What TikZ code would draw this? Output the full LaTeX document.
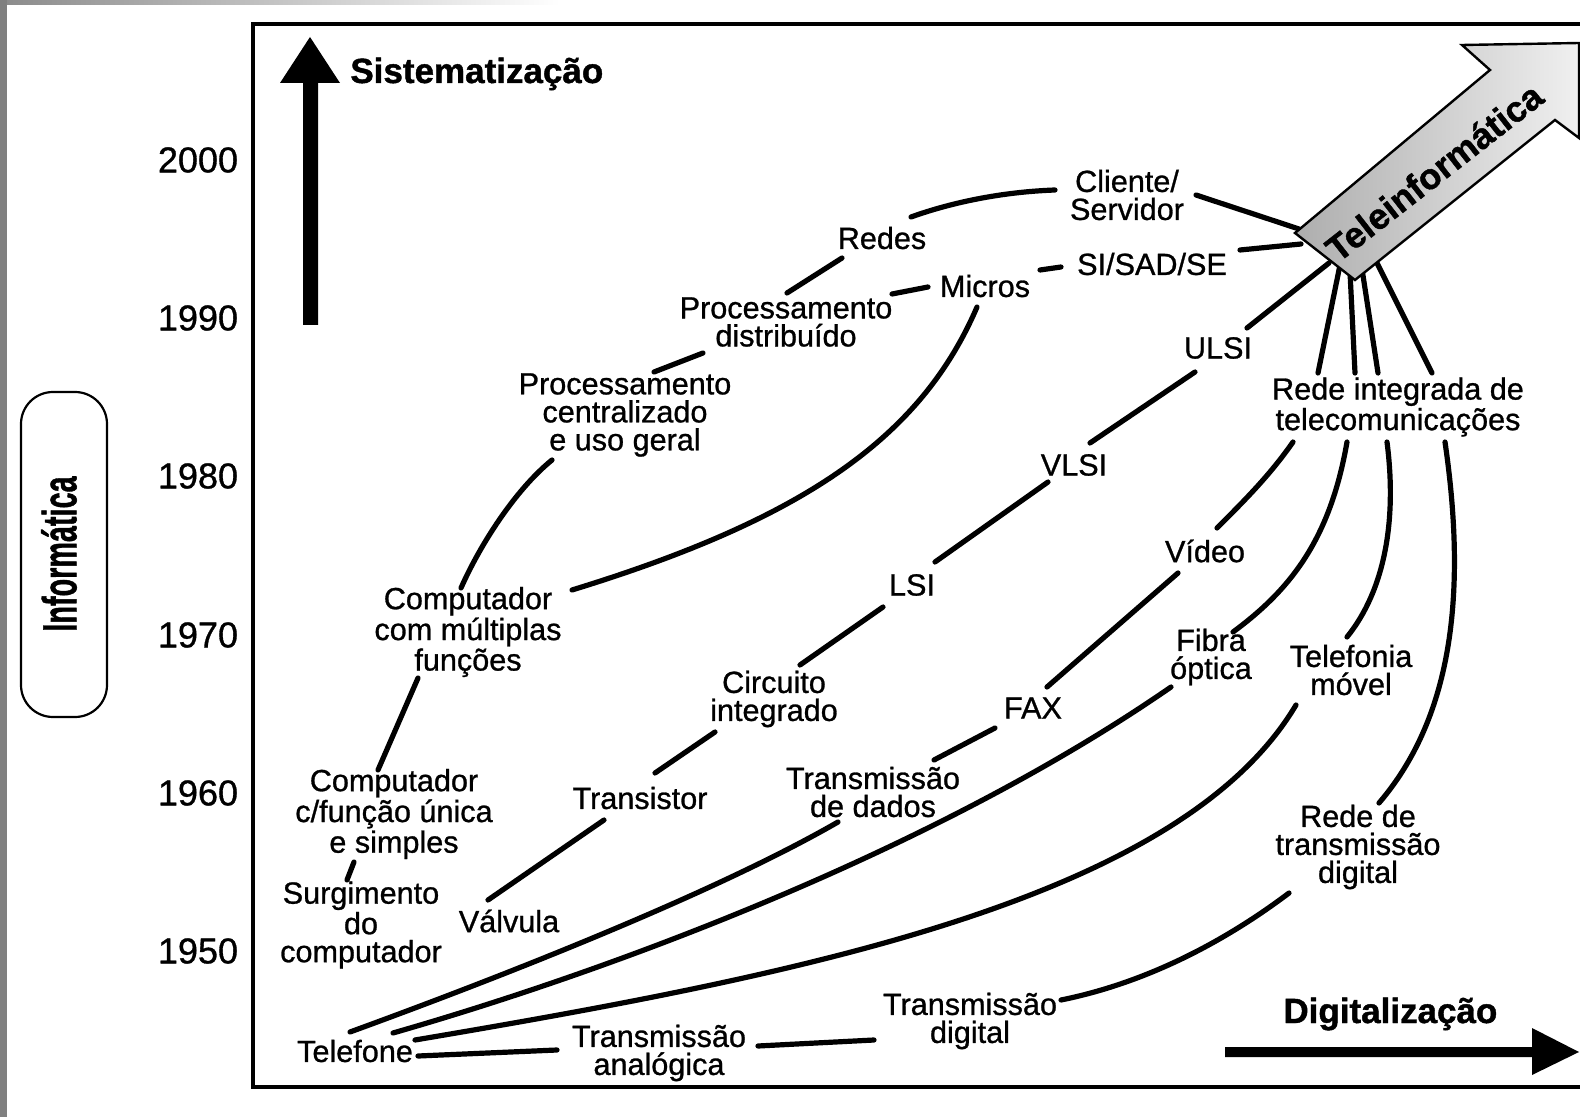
\documentclass[tikz,border=0pt]{standalone}
\usepackage{fontspec}
\setmainfont{Liberation Sans}
\newfontfamily\lblfont{Liberation Sans}[FakeBold=0.9]
\newfontfamily\heavyfont{Liberation Sans Bold}[FakeBold=1.2]
\usepackage{graphicx}
\usetikzlibrary{calc}
\begin{document}
\begin{tikzpicture}[x=0.5pt,y=-0.5pt,
  lbl/.style={align=center, font=\lblfont\fontsize{15.3}{14}\selectfont, inner sep=0pt},
  yr/.style={font=\lblfont\fontsize{18}{20}\selectfont, inner sep=0pt},
  con/.style={line width=2.6pt, line cap=round},
  ttl/.style={font=\heavyfont\fontsize{17.5}{20}\selectfont, inner sep=0pt, anchor=base west},
  bigarrow/.style={fill=black}
  ]
\useasboundingbox (0,0) rectangle (1580,1117);
\fill[white] (0,0) rectangle (1580,1117);
\fill[black!50] (0,0) rectangle (7,1117);
\shade[left color=black!45, right color=white] (7,0) rectangle (560,5);
% frame
\draw[line width=1.6pt] (1580,24) -- (253,24) -- (253,1087) -- (1580,1087);
% years
\node[yr] (y2000) at (198,160) {2000};
\node[yr] (y1990) at (198,318) {1990};
\node[yr] (y1980) at (198,476) {1980};
\node[yr] (y1970) at (198,635) {1970};
\node[yr] (y1960) at (198,793) {1960};
\node[yr] (y1950) at (198,951) {1950};
% Informatica box
\node[draw, line width=1.1pt, rounded corners=16pt, minimum width=43pt, minimum height=162.5pt, inner sep=0pt] (infbox) at (64,554.5) {};
\node[rotate=90, font=\heavyfont\fontsize{24}{26}\selectfont, inner sep=0pt] (inf) at (59,554) {\scalebox{0.6}[1]{Informática}};
% axis arrows
\path[bigarrow] (303,325) -- (303,83) -- (280,83) -- (310,37) -- (340,83) -- (318,83) -- (318,325) -- cycle;
\node[ttl] (sist) at (350,83) {Sistematização};
\path[bigarrow] (1225,1047) -- (1532,1047) -- (1532,1028) -- (1579,1052) -- (1532,1075) -- (1532,1057) -- (1225,1057) -- cycle;
\node[ttl] (digi) at (1283,1023) {Digitalização};
% labels
\node[lbl] (cli) at (1127,195) {Cliente/\\Servidor};
\node[lbl] (redes) at (882,238) {Redes};
\node[lbl] (sisad) at (1152,264) {SI/SAD/SE};
\node[lbl] (micros) at (985,286) {Micros};
\node[lbl] (pdist) at (786,322) {Processamento\\distribuído};
\node[lbl] (ulsi) at (1218,348) {ULSI};
\node[lbl] (pcent) at (625,415) {Processamento\\centralizado\\e uso geral};
\node[lbl] (rint) at (1398,407) {Rede integrada de\\telecomunicações};
\node[lbl] (vlsi) at (1074,465) {VLSI};
\node[lbl] (video) at (1205,551) {Vídeo};
\node[lbl] (lsi) at (912,585) {LSI};
\node[lbl] (cmult) at (468,632) {Computador\\com múltiplas\\funções};
\node[lbl] (fibra) at (1211,657) {Fibra\\óptica};
\node[lbl] (tmov) at (1351,670) {Telefonia\\móvel};
\node[lbl] (circ) at (774,699) {Circuito\\integrado};
\node[lbl] (fax) at (1033,708) {FAX};
\node[lbl] (comp1) at (394,814) {Computador\\c/função única\\e simples};
\node[lbl] (trans) at (640,798) {Transistor};
\node[lbl] (tdados) at (873,792) {Transmissão\\de dados};
\node[lbl] (rtd) at (1358,847) {Rede de\\transmissão\\digital};
\node[lbl] (surg) at (361,925) {Surgimento\\do\\computador};
\node[lbl] (valv) at (509,921) {Válvula};
\node[lbl] (tdig) at (970,1021) {Transmissão\\digital};
\node[lbl] (tanal) at (659,1053) {Transmissão\\analógica};
\node[lbl] (tel) at (355,1051) {Telefone};
\coordinate (teltail) at (1325,257);
% connectors
\draw[con] ($(surg)+(-14,-45)$) -- ($(comp1)+(-40,48)$);
\draw[con] ($(comp1)+(-16,-44)$) -- ($(cmult)+(-50,46)$);
\draw[con] ($(cmult)+(-7,-44)$) .. controls (480,545) and (515,490) .. ($(pcent)+(-73,45)$);
\draw[con] ($(pcent)+(29,-43)$) -- ($(pdist)+(-83,31)$);
\draw[con] ($(pdist)+(1,-29)$) -- ($(redes)+(-40,20)$);
\draw[con] ($(redes)+(29,-21)$) .. controls (950,203) and (1000,192) .. ($(cli)+(-72,-5)$);
\draw[con] ($(cli)+(69,0)$) -- ($(teltail)+(-26,-28)$);
\draw[con] ($(sisad)+(88,-14)$) -- ($(teltail)+(-24,-13)$);
\draw[con] ($(micros)+(-57,1)$) -- ($(pdist)+(106,-28)$);
\draw[con] ($(micros)+(55,-16)$) -- ($(sisad)+(-91,3)$);
\draw[con] ($(micros)+(-8,21)$) .. controls (920,440) and (800,520) .. ($(cmult)+(104,-42)$);
\draw[con] ($(valv)+(-21,-21)$) -- ($(trans)+(-36,22)$);
\draw[con] ($(trans)+(15,-25)$) -- ($(circ)+(-59,33)$);
\draw[con] ($(circ)+(26,-34)$) -- ($(lsi)+(-29,22)$);
\draw[con] ($(lsi)+(23,-23)$) -- ($(vlsi)+(-26,17)$);
\draw[con] ($(vlsi)+(16,-22)$) -- ($(ulsi)+(-23,24)$);
\draw[con] ($(ulsi)+(29,-20)$) -- ($(teltail)+(4,6)$);
\draw[con] ($(tdados)+(61,-32)$) -- ($(fax)+(-38,20)$);
\draw[con] ($(fax)+(14,-21)$) -- ($(video)+(-27,22)$);
\draw[con] ($(video)+(12,-23)$) .. controls (1245,500) and (1270,475) .. ($(rint)+(-105,35)$);
\draw[con] ($(rint)+(-80,-34)$) -- ($(teltail)+(15,8)$);
\draw[con] ($(rint)+(-43,-34)$) -- ($(teltail)+(25,15)$);
\draw[con] ($(rint)+(-20,-34)$) -- ($(teltail)+(37,12)$);
\draw[con] ($(rint)+(34,-34)$) -- ($(teltail)+(51,4)$);
\draw[con] ($(fibra)+(22,-25)$) .. controls (1290,590) and (1330,540) .. ($(rint)+(-51,35)$);
\draw[con] ($(tmov)+(-4,-33)$) .. controls (1385,590) and (1397,520) .. ($(rint)+(-11,35)$);
\draw[con] ($(rtd)+(21,-44)$) .. controls (1450,720) and (1468,600) .. ($(rint)+(47,35)$);
\draw[con] ($(tel)+(-5,-19)$) .. controls (520,970) and (720,890) .. ($(tdados)+(-35,30)$);
\draw[con] ($(tel)+(38,-18)$) .. controls (640,962) and (950,840) .. ($(fibra)+(-40,30)$);
\draw[con] ($(tel)+(60,-11)$) .. controls (800,975) and (1180,900) .. ($(tmov)+(-55,35)$);
\draw[con] ($(tel)+(63,5)$) -- ($(tanal)+(-102,-3)$);
\draw[con] ($(tanal)+(99,-7)$) -- ($(tdig)+(-96,19)$);
\draw[con] ($(tdig)+(91,-21)$) .. controls (1160,980) and (1240,930) .. ($(rtd)+(-69,46)$);
% Teleinformatica arrow
\shadedraw[left color=black!32, right color=black!6, draw=black, line width=1.2pt, line join=miter]
  (1295,233) -- (1490,70) -- (1462,45) -- (1579,43) -- (1579,138) -- (1555,120) -- (1355,280) -- cycle;
\node[rotate=38, font=\heavyfont\fontsize{18}{20}\selectfont, inner sep=0pt] (tele) at (1434,172) {Teleinformática};
\end{tikzpicture}
\end{document}
